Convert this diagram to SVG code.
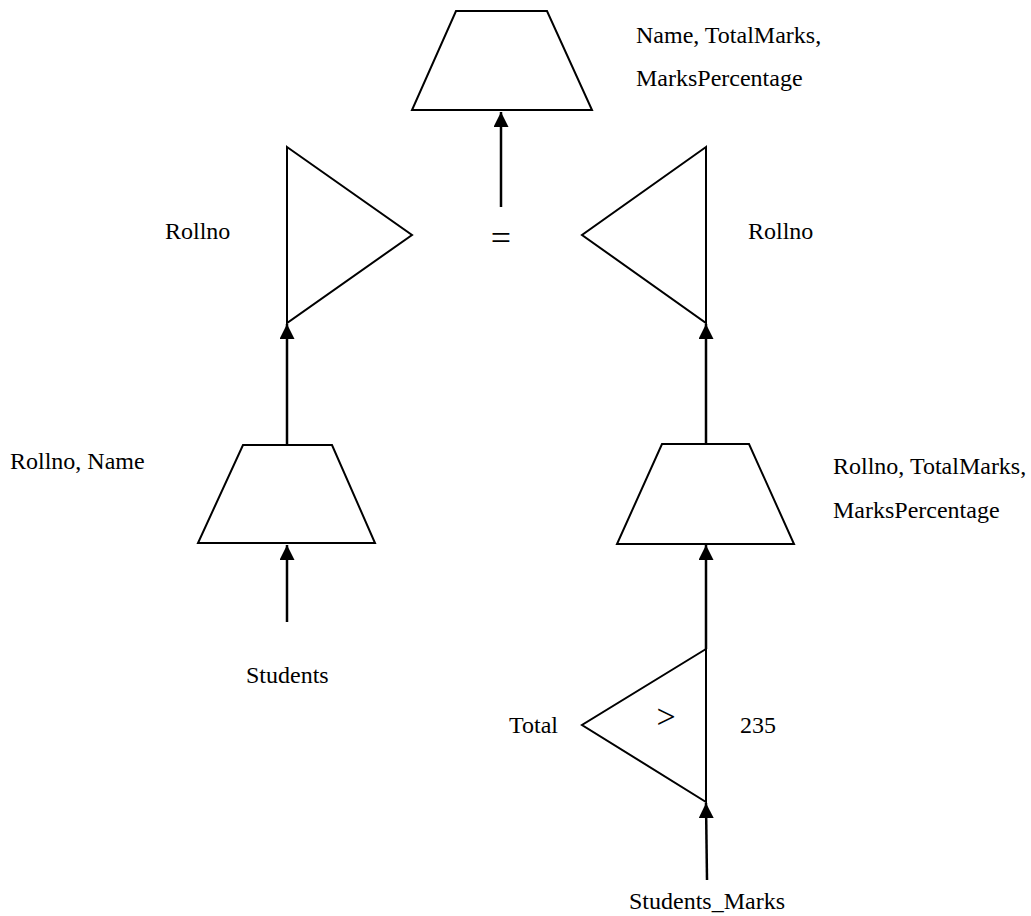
<svg xmlns="http://www.w3.org/2000/svg" width="1031" height="916" viewBox="0 0 1031 916">
<style>
.s{fill:#fff;stroke:#000;stroke-width:2;stroke-linejoin:miter}
.c{stroke:#000;stroke-width:2.5;fill:none}
.t{font-family:"Liberation Serif","Tinos","Times New Roman","DejaVu Serif",serif;font-size:24px;fill:#000}
.eq{font-family:"Liberation Serif","Tinos","Times New Roman","DejaVu Serif",serif;font-size:36px;fill:#000}
.gt{font-family:"Liberation Serif","Tinos","Times New Roman","DejaVu Serif",serif;font-size:34px;fill:#000}
</style>
<defs>
<marker id="ah" viewBox="0 0 10 10" refX="10" refY="5" markerWidth="6" markerHeight="6" markerUnits="strokeWidth" orient="auto">
<path d="M0,0 L10,5 L0,10 z" fill="#000"/>
</marker>
</defs>
<rect width="1031" height="916" fill="#fff"/>
<g id="connectors">
<line class="c" x1="501" y1="207" x2="501" y2="112" marker-end="url(#ah)"/>
<line class="c" x1="287" y1="445" x2="287" y2="324" marker-end="url(#ah)"/>
<line class="c" x1="287" y1="622" x2="287" y2="545" marker-end="url(#ah)"/>
<line class="c" x1="706" y1="444" x2="706" y2="324" marker-end="url(#ah)"/>
<line class="c" x1="706" y1="649" x2="706" y2="545" marker-end="url(#ah)"/>
<line class="c" x1="707" y1="880" x2="706" y2="803" marker-end="url(#ah)"/>
</g>
<g id="project-top">
<polygon class="s" points="456,11 547,11 592,110 412,110"/>
<text class="t" x="636" y="43">Name, TotalMarks,</text>
<text class="t" x="636" y="86">MarksPercentage</text>
</g>
<g id="join">
<text class="eq" x="501" y="250" text-anchor="middle">=</text>
</g>
<g id="group-left">
<polygon class="s" points="287,147 412,235 287,323"/>
<text class="t" x="165" y="239">Rollno</text>
</g>
<g id="group-right">
<polygon class="s" points="706,147 582,235 706,323"/>
<text class="t" x="748" y="239">Rollno</text>
</g>
<g id="project-left">
<polygon class="s" points="243,445 332,445 375,543 198,543"/>
<text class="t" x="10" y="469">Rollno, Name</text>
</g>
<g id="project-right">
<polygon class="s" points="662,444 749,444 794,544 617,544"/>
<text class="t" x="833" y="474">Rollno, TotalMarks,</text>
<text class="t" x="833" y="518">MarksPercentage</text>
</g>
<g id="students">
<text class="t" x="246" y="683">Students</text>
</g>
<g id="select">
<polygon class="s" points="706,649 582,725 706,802"/>
<text class="gt" x="666" y="728" text-anchor="middle">&gt;</text>
<text class="t" x="509" y="733">Total</text>
<text class="t" x="740" y="733">235</text>
</g>
<g id="students-marks">
<text class="t" x="629" y="909">Students_Marks</text>
</g>
</svg>
